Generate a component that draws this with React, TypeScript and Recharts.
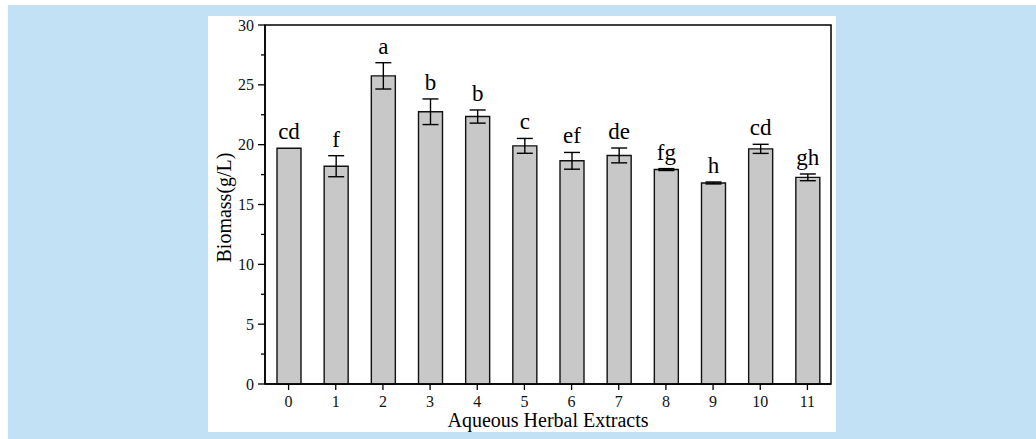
import { BarChart, Bar, XAxis, YAxis, ErrorBar, LabelList, ReferenceArea } from "recharts";

const categories = ["0", "1", "2", "3", "4", "5", "6", "7", "8", "9", "10", "11"];
const biomass = [19.7, 18.2, 25.75, 22.75, 22.35, 19.9, 18.65, 19.1, 17.92, 16.8, 19.65, 17.27];
const errors = [0, 0.88, 1.1, 1.07, 0.55, 0.62, 0.7, 0.62, 0.08, 0.08, 0.38, 0.28];
const letters = ["cd", "f", "a", "b", "b", "c", "ef", "de", "fg", "h", "cd", "gh"];
const yTicks = [0, 2.5, 5, 7.5, 10, 12.5, 15, 17.5, 20, 22.5, 25, 27.5, 30];

const FONT = '"Liberation Serif", "Times New Roman", serif';

const data = categories.map((c, i) => ({
  name: c,
  value: biomass[i],
  err: errors[i],
  letter: letters[i],
}));

function YTick({ x, y, payload }: any) {
  const major = payload.value % 5 === 0;
  return (
    <g>
      <line x1={x} x2={x - (major ? 7 : 4)} y1={y} y2={y} stroke="#000" strokeWidth={1.3} />
      {major && (
        <text x={x - 11} y={y} dy="0.35em" textAnchor="end" fontSize={16} fontFamily={FONT} fill="#111">
          {payload.value}
        </text>
      )}
    </g>
  );
}

function LetterLabel(props: any) {
  const { x, y, width, height, index } = props;
  const d = data[index];
  const pxPerUnit = height / d.value;
  const top = y - d.err * pxPerUnit;
  return (
    <text x={x + width / 2} y={top - 9} textAnchor="middle" fontSize={23} fontFamily={FONT} fill="#000">
      {d.letter}
    </text>
  );
}

function YTitle({ viewBox }: any) {
  const cx = 16;
  const cy = viewBox.y + viewBox.height / 2 + 3;
  return (
    <text x={cx} y={cy} transform={`rotate(-90 ${cx} ${cy})`} dy="0.35em" textAnchor="middle"
      fontSize={20} fontFamily={FONT} fill="#000">
      Biomass(g/L)
    </text>
  );
}

function XTitle({ viewBox }: any) {
  return (
    <text x={viewBox.x + viewBox.width / 2} y={411} textAnchor="middle" fontSize={20} fontFamily={FONT} fill="#000">
      Aqueous Herbal Extracts
    </text>
  );
}

export default function App() {
  return (
    <div style={{ position: "absolute", left: 0, top: 0, width: 1036, height: 439, background: "#fff" }}>
      <div style={{ position: "absolute", left: 8, top: 5, width: 1028, height: 434, background: "#c3e1f5" }} />
      <div style={{ position: "absolute", left: 208, top: 16, width: 628, height: 416, background: "#fff" }}>
        <BarChart width={628} height={416} data={data} margin={{ top: 9, right: 5, left: 0, bottom: 0 }}>
          <XAxis
            dataKey="name"
            height={48}
            axisLine={{ stroke: "#000", strokeWidth: 1.5 }}
            tickLine={{ stroke: "#000", strokeWidth: 1.3 }}
            tickSize={6}
            tickMargin={6}
            tick={{ fill: "#111", fontSize: 16, fontFamily: FONT }}
            label={{ content: XTitle }}
          />
          <YAxis
            width={57}
            domain={[0, 30]}
            ticks={yTicks}
            interval={0}
            tickSize={0}
            tickMargin={0}
            tickLine={false}
            axisLine={{ stroke: "#000", strokeWidth: 1.5 }}
            tick={<YTick />}
            label={{ content: YTitle }}
          />
          <ReferenceArea y1={0} y2={30} fill="none" stroke="#000" strokeWidth={1.5} ifOverflow="visible" />
          <Bar dataKey="value" barSize={24} fill="#c8c8c8" stroke="#111" strokeWidth={1.4} isAnimationActive={false}>
            <ErrorBar dataKey="err" width={8} stroke="#000" strokeWidth={1.4} />
            <LabelList dataKey="letter" content={LetterLabel} />
          </Bar>
        </BarChart>
      </div>
    </div>
  );
}
